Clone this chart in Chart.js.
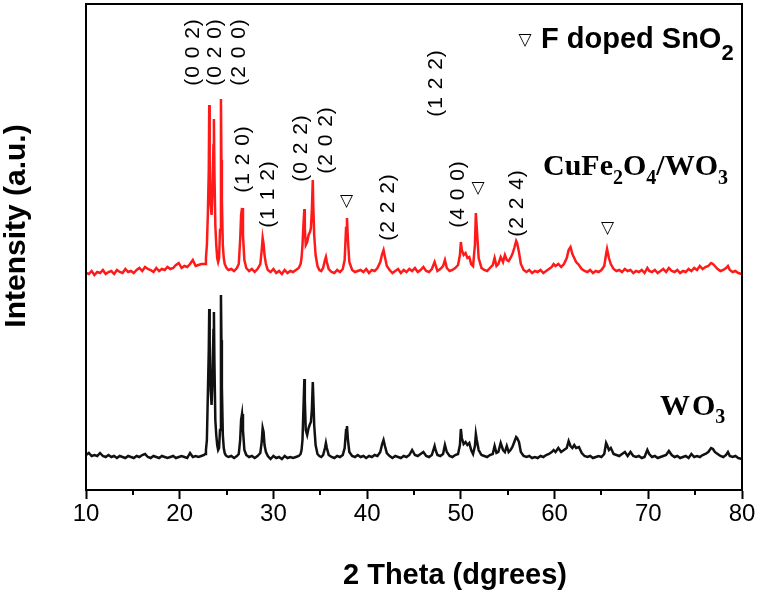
<!DOCTYPE html>
<html>
<head>
<meta charset="utf-8">
<script src="https://cdn.jsdelivr.net/npm/chart.js@4.4.0/dist/chart.umd.min.js"></script>
<style>
  html,body{margin:0;padding:0;background:#fff}
  canvas{display:block}
</style>
</head>
<body>
<canvas id="xrd" width="762" height="594"></canvas>
<script>
/* XRD patterns: WO3 vs CuFe2O4/WO3 (intensity in a.u., offset stack) */

// 2θ sample positions, shared by both patterns
const twoTheta = [
  // flat start
  10.0,10.3,10.6,10.9,11.2,11.5,11.8,12.1,12.4,12.7,13.0,13.3,13.6,13.9,14.2,14.5,14.8,15.1,15.4,15.7,
  16.0,16.3,16.6,16.9,17.2,17.5,17.8,18.1,18.4,18.7,19.0,19.3,19.6,19.9,20.2,20.5,20.8,21.1,21.4,21.7,
  22.0,22.3,22.6,
  // (002)(020)(200) triplet
  22.7,22.8,22.9,23.0,23.1,23.15,23.2,23.25,23.3,23.4,23.5,23.6,23.65,23.7,23.8,23.9,24.0,24.1,24.2,24.3,
  24.4,24.45,24.5,24.6,24.7,24.8,24.9,25.0,25.2,
  // 25.5 - 39
  25.5,25.8,26.1,26.3,26.45,26.55,26.65,26.75,26.9,27.1,
  27.4,27.7,28.0,28.3,28.6,28.75,28.85,28.95,29.05,29.2,
  29.4,29.7,30.0,30.3,30.6,30.9,31.2,31.5,31.8,32.1,
  32.4,32.7,32.9,33.0,33.1,33.2,33.3,33.35,33.45,33.6,
  33.75,33.9,34.0,34.1,34.2,34.25,34.35,34.5,34.7,34.9,
  35.1,35.3,35.5,35.6,35.7,35.9,36.2,36.5,36.8,37.1,
  37.4,37.6,37.75,37.85,37.95,38.1,38.4,38.7,39.0,
  // 39.3 - 80
  39.3,39.6,39.9,40.2,40.5,40.8,41.1,41.4,41.6,41.75,
  41.9,42.1,42.4,42.7,43.0,43.3,43.6,43.9,44.2,44.5,
  44.8,45.1,45.4,45.7,46.0,46.3,46.6,46.9,47.2,47.3,
  47.5,47.8,48.1,48.3,48.5,48.8,49.1,49.4,49.7,49.9,
  50.0,50.1,50.3,50.5,50.7,50.9,51.1,51.3,51.5,51.6,
  51.7,51.9,52.2,52.5,52.8,53.1,53.4,53.6,53.8,54.0,
  54.25,54.5,54.7,54.9,55.1,55.3,55.5,55.7,55.9,56.0,
  56.2,56.4,56.7,57.0,57.3,57.6,57.9,58.2,58.5,58.8,
  59.1,59.4,59.7,59.9,60.1,60.4,60.7,61.0,61.3,61.5,
  61.7,61.9,62.1,62.3,62.6,62.9,63.2,63.5,63.8,64.1,
  64.4,64.7,65.0,65.3,65.5,65.6,65.8,66.0,66.3,66.6,
  66.9,67.2,67.5,67.8,68.1,68.4,68.7,69.0,69.3,69.6,
  69.9,70.1,70.4,70.7,71.0,71.3,71.6,71.9,72.2,72.5,
  72.8,73.1,73.4,73.7,74.0,74.3,74.6,74.9,75.2,75.5,
  75.8,76.1,76.4,76.7,76.9,77.1,77.4,77.7,78.0,78.3,
  78.5,78.7,79.0,79.3,79.6,80.0
];

// WO3 (black, lower pattern)
const wo3 = [
  35,37,34,35,34,37,34,33,35,33,34,32,34,33,32,34,33,32,34,33,
  35,36,33,32,34,33,32,34,33,32,33,34,32,33,34,33,32,37,33,34,
  33,34,35,
  36,40,50,95,140,181,150,120,100,85,110,160,178,130,70,55,45,40,42,60,
  195,150,103,55,42,37,35,34,33,
  34,32,34,36,50,70,76,60,40,35,
  33,34,32,34,37,48,62,58,45,38,
  34,31,34,32,33,31,34,32,33,32,
  33,34,36,40,50,80,111,90,60,55,
  62,66,68,80,108,95,65,45,36,34,
  33,35,42,47,42,35,33,32,34,33,
  35,42,60,64,50,38,34,33,35,
  33,34,32,34,33,35,34,38,46,50,
  44,37,34,32,34,33,32,34,33,35,
  40,35,34,36,38,34,33,35,44,40,
  35,34,36,45,38,34,33,35,36,45,
  61,52,46,48,45,47,40,36,44,56,
  50,40,35,34,33,35,36,44,37,38,
  47,40,38,44,38,40,43,48,53,52,
  48,38,34,33,34,32,33,32,34,33,
  35,36,38,40,38,42,38,40,42,49,
  44,42,45,42,43,37,34,33,34,32,
  33,34,33,36,47,45,40,42,36,35,
  34,36,38,34,38,34,33,34,32,33,
  40,36,33,34,32,33,34,35,39,35,
  33,34,32,33,34,32,36,33,34,33,
  35,36,38,42,41,38,36,34,33,35,
  38,34,33,34,32,31
];

// CuFe2O4/WO3 (red, upper pattern)
const cuFeWo3 = [
  217,216,219,215,218,217,220,216,218,219,216,220,218,217,221,218,219,217,220,222,
  219,223,221,220,218,222,219,221,220,223,221,222,225,227,222,224,223,226,230,224,
  225,226,226,
  226,232,245,275,320,385,330,300,285,275,300,345,371,320,265,245,232,228,232,260,
  391,330,290,245,232,226,224,222,220,
  221,219,222,226,250,275,282,255,230,222,
  219,221,218,221,226,240,252,246,235,226,
  220,218,221,217,219,216,220,217,219,218,
  220,222,226,232,245,265,281,262,245,248,
  255,258,262,280,310,285,255,235,224,220,
  219,222,230,233,228,221,218,217,220,218,
  221,230,262,272,250,228,220,218,219,
  220,218,221,217,220,219,222,228,236,240,
  233,224,220,217,219,221,217,220,218,221,
  219,222,218,220,223,219,218,221,228,225,
  219,221,224,230,222,219,220,222,225,235,
  248,240,235,237,232,233,226,224,245,277,
  262,232,222,220,219,222,225,232,224,226,
  233,228,235,230,229,232,236,242,249,247,
  238,226,220,218,220,217,219,218,220,217,
  219,221,223,226,224,226,223,226,232,240,
  243,236,232,228,225,221,219,218,220,217,
  219,218,220,224,236,241,232,226,221,219,
  220,218,221,219,220,217,219,218,220,217,
  222,219,218,220,217,219,221,218,222,219,
  218,220,217,219,218,221,219,222,220,224,
  221,223,224,227,226,224,221,219,220,222,
  224,220,218,219,217,216
];

const xTicks = [10,20,30,40,50,60,70,80];
const xMinorTicks = [15,25,35,45,55,65,75];

// Miller index labels, placed at (2θ, intensity)
const hklLabels = [
  {t:'(0 0 2)', x:21.42, y:438},
  {t:'(0 2 0)', x:23.77, y:438},
  {t:'(2 0 0)', x:26.35, y:438},
  {t:'(1 2 0)', x:26.79, y:331},
  {t:'(1 1 2)', x:29.42, y:296},
  {t:'(0 2 2)', x:32.94, y:342},
  {t:'(2 0 2)', x:35.61, y:350},
  {t:'(2 2 2)', x:42.26, y:283},
  {t:'(1 2 2)', x:47.42, y:407},
  {t:'(4 0 0)', x:49.73, y:296},
  {t:'(2 2 4)', x:56.0,  y:287}
];
// F doped SnO2 peaks (▽)
const snMarks = [[37.8,288],[51.83,301],[65.65,261]];

const SANS = "Arial, 'Liberation Sans', sans-serif";
const SERIF = "'Times New Roman', 'Liberation Serif', serif";
const pts = arr => twoTheta.map((x,i) => ({x, y:arr[i]}));

// draw a run of [text, font, dy] pieces left to right
function runText(ctx, x, y, parts){
  parts.forEach(([s,f,dy]) => {
    ctx.font = f;
    ctx.fillText(s, x, y + (dy||0));
    x += ctx.measureText(s).width;
  });
}

const deco = {
  id:'deco',
  afterDraw(chart){
    const {ctx, chartArea:a, scales:{x, y}} = chart;
    ctx.save();
    ctx.strokeStyle = '#000'; ctx.lineWidth = 2;
    ctx.strokeRect(a.left, a.top, a.right - a.left, a.bottom - a.top);
    ctx.beginPath();
    xMinorTicks.forEach(v => {
      const px = Math.round(x.getPixelForValue(v));
      ctx.moveTo(px, a.bottom); ctx.lineTo(px, a.bottom + 5);
    });
    ctx.stroke();

    ctx.fillStyle = '#000';
    // hkl labels, rotated
    ctx.font = '21px ' + SANS;
    ctx.textAlign = 'center'; ctx.textBaseline = 'middle';
    if ('letterSpacing' in ctx) ctx.letterSpacing = '1px';
    hklLabels.forEach(h => {
      ctx.save();
      ctx.translate(x.getPixelForValue(h.x), y.getPixelForValue(h.y));
      ctx.rotate(-Math.PI/2);
      ctx.fillText(h.t, 0, 0);
      ctx.restore();
    });
    if ('letterSpacing' in ctx) ctx.letterSpacing = '0px';

    // SnO2 markers
    ctx.font = "17px 'DejaVu Sans'";
    snMarks.forEach(([t,v]) => ctx.fillText('▽', x.getPixelForValue(t), y.getPixelForValue(v)));
    ctx.fillText('▽', 525, 41);

    // legend + series names
    ctx.textAlign = 'left'; ctx.textBaseline = 'alphabetic';
    runText(ctx, 541, 48, [['F doped SnO','bold 29px '+SANS],['2','bold 22px '+SANS,12]]);
    runText(ctx, 543, 175, [['CuFe','bold 30px '+SERIF],['2','bold 20px '+SERIF,9],['O','bold 30px '+SERIF],
      ['4','bold 20px '+SERIF,9],['/WO','bold 30px '+SERIF],['3','bold 20px '+SERIF,9]]);
    runText(ctx, 660, 415, [['W','bold 30px '+SERIF],[' ','bold 8px '+SERIF],['O','bold 30px '+SERIF],['3','bold 20px '+SERIF,8]]);

    // axis titles
    ctx.textAlign = 'center';
    ctx.font = 'bold 29px ' + SANS;
    ctx.fillText('2 Theta (dgrees)', 455, 584);
    ctx.save();
    ctx.translate(25, 226); ctx.rotate(-Math.PI/2);
    ctx.font = 'bold 30px ' + SANS;
    ctx.fillText('Intensity (a.u.)', 0, 0);
    ctx.restore();
    ctx.restore();
  }
};

new Chart(document.getElementById('xrd'), {
  type:'line',
  data:{datasets:[
    {label:'WO3', data:pts(wo3), borderColor:'#111', borderWidth:2.5, pointRadius:0, tension:0},
    {label:'CuFe2O4/WO3', data:pts(cuFeWo3), borderColor:'#ff1a1a', borderWidth:2.5, pointRadius:0, tension:0}
  ]},
  options:{
    responsive:false, animation:false,
    layout:{padding:{left:86, right:20, top:4, bottom:0}},
    plugins:{legend:{display:false}, tooltip:{enabled:false}},
    scales:{
      x:{type:'linear', min:10, max:80,
        afterBuildTicks: s => { s.ticks = xTicks.map(v => ({value:v})); },
        afterFit: s => { s.height = 104; },
        ticks:{color:'#000', font:{family:SANS, size:24}, padding:1, maxRotation:0, autoSkip:false},
        grid:{drawOnChartArea:false, tickLength:9, tickColor:'#000', tickWidth:2},
        border:{color:'#000', width:2}},
      y:{display:false, min:0, max:486}
    }
  },
  plugins:[deco]
});
</script>
</body>
</html>
